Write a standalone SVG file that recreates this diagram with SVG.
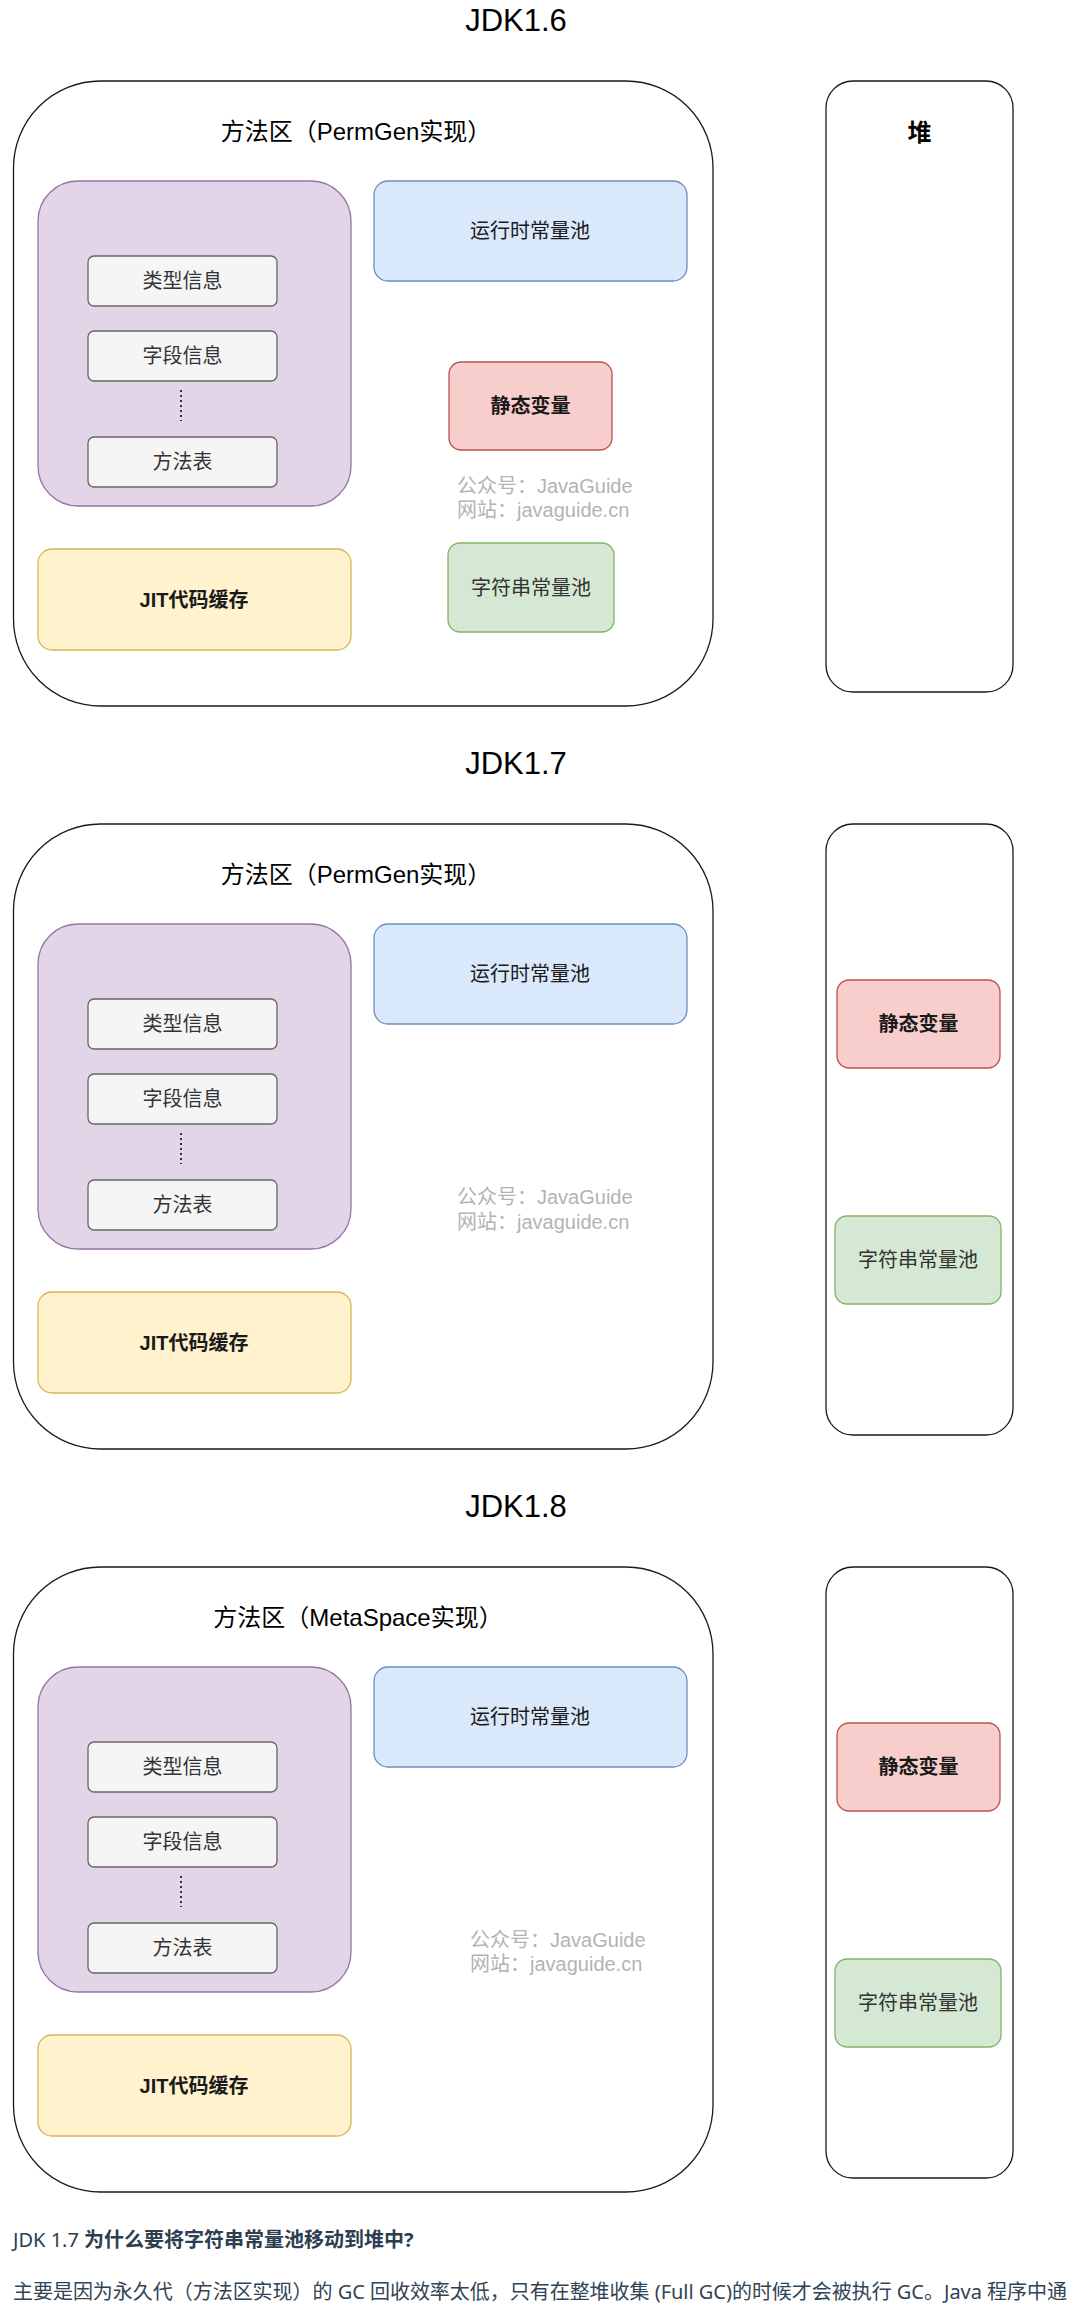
<svg xmlns="http://www.w3.org/2000/svg" width="1069" height="2315" viewBox="0 0 1069 2315">
<style>
text{font-family:"Liberation Sans","Noto Sans CJK SC",sans-serif;}
.ttl{font-size:31px;fill:#000;text-anchor:middle;}
.area{fill:#fff;stroke:#1a1a1a;stroke-width:1.3;}
.mtitle{font-size:24px;fill:#000;text-anchor:middle;}
.lbl{font-size:20px;fill:#1a1a1a;text-anchor:middle;dominant-baseline:central;}
.glbl{font-size:20px;fill:#333;text-anchor:middle;dominant-baseline:central;}
.b{font-weight:bold;}
.purple{fill:#e1d5e7;stroke:#9673a6;stroke-width:1.3;}
.gray{fill:#f5f5f5;stroke:#666;stroke-width:1.3;}
.blue{fill:#dae8fc;stroke:#6c8ebf;stroke-width:1.3;}
.red{fill:#f8cecc;stroke:#b85450;stroke-width:1.3;}
.green{fill:#d5e8d4;stroke:#82b366;stroke-width:1.3;}
.yellow{fill:#fff2cc;stroke:#d6b656;stroke-width:1.3;}
.wm{font-size:20px;fill:#b3b3b3;}
.dots{stroke:#333;stroke-width:2;stroke-dasharray:2 3;fill:none;}
.doc{font-family:"Noto Sans","Noto Sans CJK SC",sans-serif;font-size:20px;}
</style>
<rect width="1069" height="2315" fill="#fff"/>

<!-- ===== JDK1.6 ===== -->
<g id="title16"><text class="ttl" x="516" y="31">JDK1.6</text></g>
<g id="method16">
<rect class="area" x="13.5" y="81" width="699.5" height="625" rx="87"/>
<text class="mtitle" x="356" y="140">方法区（PermGen实现）</text>
</g>
<g id="classinfo16">
<rect class="purple" x="38" y="181" width="313" height="325" rx="40"/>
</g>
<g id="type16"><rect class="gray" x="88" y="256" width="189" height="50" rx="6"/><text class="glbl" x="182.5" y="281">类型信息</text></g>
<g id="field16"><rect class="gray" x="88" y="331" width="189" height="50" rx="6"/><text class="glbl" x="182.5" y="356">字段信息</text></g>
<g id="mtable16"><rect class="gray" x="88" y="437" width="189" height="50" rx="6"/><text class="glbl" x="182.5" y="462">方法表</text></g>
<g id="jit16"><rect class="yellow" x="38" y="549" width="313" height="101" rx="14"/><text class="lbl b" x="194" y="599.5">JIT代码缓存</text></g>
<g id="rtcp16"><rect class="blue" x="374" y="181" width="313" height="100" rx="14"/><text class="lbl" x="530" y="231">运行时常量池</text></g>
<g id="static16"><rect class="red" x="449" y="362" width="163" height="88" rx="12"/><text class="lbl b" x="530.5" y="406">静态变量</text></g>
<g id="strpool16"><rect class="green" x="448" y="543" width="166" height="89" rx="12"/><text class="glbl" x="531" y="587.5">字符串常量池</text></g>
<g id="wm16"><text class="wm" x="457" y="493">公众号：JavaGuide</text><text class="wm" x="457" y="517">网站：javaguide.cn</text></g>
<g id="heap16">
<rect class="area" x="826" y="81" width="187" height="611" rx="27"/>
<text class="lbl b" x="919.5" y="132" style="font-size:24px;fill:#000">堆</text>
</g>

<!-- ===== JDK1.7 ===== -->
<g id="title17"><text class="ttl" x="516" y="774">JDK1.7</text></g>
<g id="method17">
<rect class="area" x="13.5" y="824" width="699.5" height="625" rx="87"/>
<text class="mtitle" x="356" y="883">方法区（PermGen实现）</text>
</g>
<g id="classinfo17">
<rect class="purple" x="38" y="924" width="313" height="325" rx="40"/>
</g>
<g id="type17"><rect class="gray" x="88" y="999" width="189" height="50" rx="6"/><text class="glbl" x="182.5" y="1024">类型信息</text></g>
<g id="field17"><rect class="gray" x="88" y="1074" width="189" height="50" rx="6"/><text class="glbl" x="182.5" y="1099">字段信息</text></g>
<g id="mtable17"><rect class="gray" x="88" y="1180" width="189" height="50" rx="6"/><text class="glbl" x="182.5" y="1205">方法表</text></g>
<g id="jit17"><rect class="yellow" x="38" y="1292" width="313" height="101" rx="14"/><text class="lbl b" x="194" y="1342.5">JIT代码缓存</text></g>
<g id="rtcp17"><rect class="blue" x="374" y="924" width="313" height="100" rx="14"/><text class="lbl" x="530" y="974">运行时常量池</text></g>
<g id="wm17"><text class="wm" x="457" y="1204">公众号：JavaGuide</text><text class="wm" x="457" y="1229">网站：javaguide.cn</text></g>
<g id="heap17">
<rect class="area" x="826" y="824" width="187" height="611" rx="27"/>
</g>
<g id="static17"><rect class="red" x="837" y="980" width="163" height="88" rx="12"/><text class="lbl b" x="918.5" y="1024">静态变量</text></g>
<g id="strpool17"><rect class="green" x="835" y="1216" width="166" height="88" rx="12"/><text class="glbl" x="918" y="1260">字符串常量池</text></g>

<!-- ===== JDK1.8 ===== -->
<g id="title18"><text class="ttl" x="516" y="1517">JDK1.8</text></g>
<g id="method18">
<rect class="area" x="13.5" y="1567" width="699.5" height="625" rx="87"/>
<text class="mtitle" x="358" y="1626">方法区（MetaSpace实现）</text>
</g>
<g id="classinfo18">
<rect class="purple" x="38" y="1667" width="313" height="325" rx="40"/>
</g>
<g id="type18"><rect class="gray" x="88" y="1742" width="189" height="50" rx="6"/><text class="glbl" x="182.5" y="1767">类型信息</text></g>
<g id="field18"><rect class="gray" x="88" y="1817" width="189" height="50" rx="6"/><text class="glbl" x="182.5" y="1842">字段信息</text></g>
<g id="mtable18"><rect class="gray" x="88" y="1923" width="189" height="50" rx="6"/><text class="glbl" x="182.5" y="1948">方法表</text></g>
<g id="jit18"><rect class="yellow" x="38" y="2035" width="313" height="101" rx="14"/><text class="lbl b" x="194" y="2085.5">JIT代码缓存</text></g>
<g id="rtcp18"><rect class="blue" x="374" y="1667" width="313" height="100" rx="14"/><text class="lbl" x="530" y="1717">运行时常量池</text></g>
<g id="wm18"><text class="wm" x="470" y="1947">公众号：JavaGuide</text><text class="wm" x="470" y="1971">网站：javaguide.cn</text></g>
<g id="heap18">
<rect class="area" x="826" y="1567" width="187" height="611" rx="27"/>
</g>
<g id="static18"><rect class="red" x="837" y="1723" width="163" height="88" rx="12"/><text class="lbl b" x="918.5" y="1767">静态变量</text></g>
<g id="strpool18"><rect class="green" x="835" y="1959" width="166" height="88" rx="12"/><text class="glbl" x="918" y="2003">字符串常量池</text></g>

<g id="connectors">
<line class="dots" x1="181" y1="390" x2="181" y2="421"/>
<line class="dots" x1="181" y1="1133" x2="181" y2="1164"/>
<line class="dots" x1="181" y1="1876" x2="181" y2="1907"/>
</g>

<g id="doc">
<text class="doc" x="13" y="2247" fill="#2c3e50">JDK 1.7 <tspan font-weight="bold">为什么要将字符串常量池移动到堆中?</tspan></text>
<text class="doc" x="13" y="2299" fill="#304455" textLength="1054" lengthAdjust="spacing">主要是因为永久代（方法区实现）的 GC 回收效率太低，只有在整堆收集 (Full GC)的时候才会被执行 GC。Java 程序中通</text>
</g>
</svg>
